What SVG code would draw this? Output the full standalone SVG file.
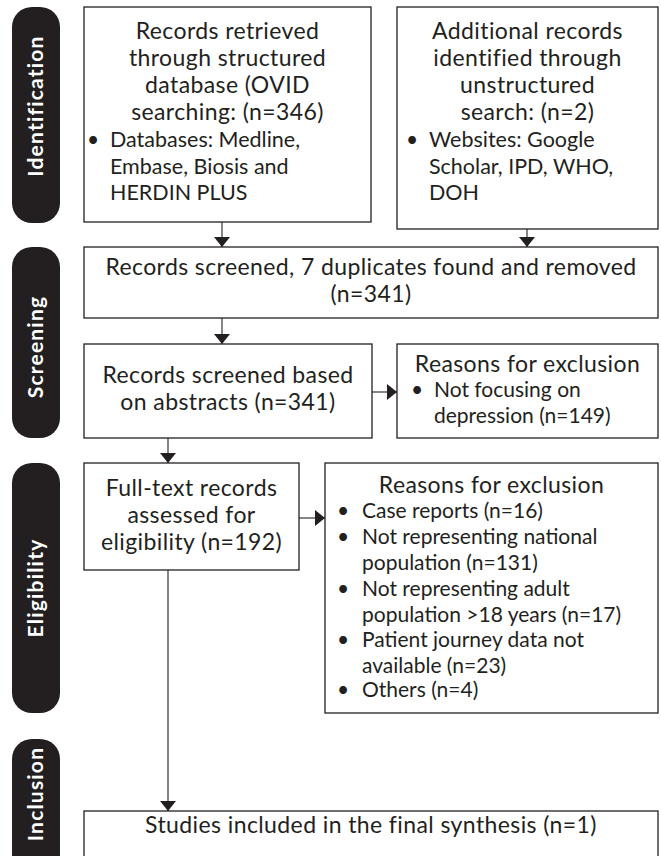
<svg xmlns="http://www.w3.org/2000/svg" width="661" height="856" viewBox="0 0 661 856">
<style>
.bg{fill:#ffffff}
.box{fill:#ffffff;stroke:#231f20;stroke-width:1.3}
.pill{fill:#231f20}
.t{font-family:Lato,"Open Sans","Liberation Sans",sans-serif;font-size:21px;fill:#231f20}
.h{font-size:23px;letter-spacing:0.4px}
.b{font-size:21.5px}
.c{text-anchor:middle}
.side{font-family:Lato,"Open Sans","Liberation Sans",sans-serif;font-size:21px;font-weight:bold;letter-spacing:1.2px;fill:#ffffff;text-anchor:middle}
.conn{stroke:#444444;stroke-width:1.3;fill:none}
</style>
<defs>
<marker id="arrow" viewBox="0 0 10 16" refX="10" refY="8" markerWidth="10" markerHeight="16" markerUnits="userSpaceOnUse" orient="auto">
<path d="M0,0 L10,8 L0,16 Z" fill="#231f20"/>
</marker>
</defs>
<rect class="bg" x="0" y="0" width="661" height="856"/>

<g id="phase-identification">
<rect class="pill" x="12" y="7" width="48" height="216" rx="20"/>
<text class="side" transform="translate(43,106) rotate(-90)">Identification</text>
</g>
<g id="phase-screening">
<rect class="pill" x="12" y="247" width="48" height="191" rx="20"/>
<text class="side" transform="translate(43,347) rotate(-90)">Screening</text>
</g>
<g id="phase-eligibility">
<rect class="pill" x="12" y="463" width="48" height="250" rx="20"/>
<text class="side" transform="translate(43,588) rotate(-90)">Eligibility</text>
</g>
<g id="phase-inclusion">
<rect class="pill" x="12" y="739" width="48" height="150" rx="20"/>
<text class="side" transform="translate(43,794) rotate(-90)">Inclusion</text>
</g>

<g id="connectors">
<line class="conn" x1="222" y1="222" x2="222" y2="247" marker-end="url(#arrow)"/>
<line class="conn" x1="527" y1="229" x2="527" y2="247" marker-end="url(#arrow)"/>
<line class="conn" x1="222" y1="318" x2="222" y2="344" marker-end="url(#arrow)"/>
<line class="conn" x1="372" y1="392" x2="397" y2="392" marker-end="url(#arrow)"/>
<line class="conn" x1="168" y1="438" x2="168" y2="463" marker-end="url(#arrow)"/>
<line class="conn" x1="299" y1="518" x2="325" y2="518" marker-end="url(#arrow)"/>
<line class="conn" x1="168" y1="570" x2="168" y2="811" marker-end="url(#arrow)"/>
</g>

<g id="node-structured">
<rect class="box" x="84" y="7" width="287" height="215"/>
<text class="t h c" x="227.5" y="39">Records retrieved</text>
<text class="t h c" x="227.5" y="66">through structured</text>
<text class="t h c" x="227.5" y="93">database (OVID</text>
<text class="t h c" x="227.5" y="120">searching: (n=346)</text>
<text class="t c" x="93" y="147">•</text>
<text class="t b" x="110" y="147">Databases: Medline,</text>
<text class="t b" x="110" y="174">Embase, Biosis and</text>
<text class="t b" x="110" y="200">HERDIN PLUS</text>
</g>

<g id="node-unstructured">
<rect class="box" x="397" y="7" width="261" height="222"/>
<text class="t h c" x="527.5" y="39">Additional records</text>
<text class="t h c" x="527.5" y="66">identified through</text>
<text class="t h c" x="527.5" y="93">unstructured</text>
<text class="t h c" x="527.5" y="120">search: (n=2)</text>
<text class="t c" x="412" y="147">•</text>
<text class="t b" x="429" y="147">Websites: Google</text>
<text class="t b" x="429" y="174">Scholar, IPD, WHO,</text>
<text class="t b" x="429" y="200">DOH</text>
</g>

<g id="node-screened">
<rect class="box" x="84" y="247" width="574" height="71"/>
<text class="t h c" x="371" y="275">Records screened, 7 duplicates found and removed</text>
<text class="t h c" x="371" y="302">(n=341)</text>
</g>

<g id="node-abstracts">
<rect class="box" x="84" y="344" width="288" height="94"/>
<text class="t h c" x="228" y="383">Records screened based</text>
<text class="t h c" x="228" y="410">on abstracts (n=341)</text>
</g>

<g id="node-exclusion-1">
<rect class="box" x="397" y="344" width="261" height="94"/>
<text class="t h c" x="527.5" y="372">Reasons for exclusion</text>
<text class="t c" x="417" y="397">•</text>
<text class="t" x="434" y="397">Not focusing on</text>
<text class="t" x="434" y="423">depression (n=149)</text>
</g>

<g id="node-fulltext">
<rect class="box" x="84" y="463" width="215" height="107"/>
<text class="t h c" x="191.5" y="496">Full-text records</text>
<text class="t h c" x="191.5" y="523">assessed for</text>
<text class="t h c" x="191.5" y="550">eligibility (n=192)</text>
</g>

<g id="node-exclusion-2">
<rect class="box" x="325" y="463" width="333" height="250"/>
<text class="t h c" x="491.5" y="493">Reasons for exclusion</text>
<text class="t c" x="343" y="518">•</text>
<text class="t" x="362" y="518">Case reports (n=16)</text>
<text class="t c" x="343" y="544">•</text>
<text class="t" x="362" y="544">Not representing national</text>
<text class="t" x="362" y="570">population (n=131)</text>
<text class="t c" x="343" y="596">•</text>
<text class="t" x="362" y="596">Not representing adult</text>
<text class="t" x="362" y="622">population &gt;18 years (n=17)</text>
<text class="t c" x="343" y="647">•</text>
<text class="t" x="362" y="647">Patient journey data not</text>
<text class="t" x="362" y="673">available (n=23)</text>
<text class="t c" x="343" y="697">•</text>
<text class="t" x="362" y="697">Others (n=4)</text>
</g>

<g id="node-included">
<rect class="box" x="84" y="811" width="574" height="70"/>
<text class="t h c" x="371" y="833">Studies included in the final synthesis (n=1)</text>
</g>
</svg>
